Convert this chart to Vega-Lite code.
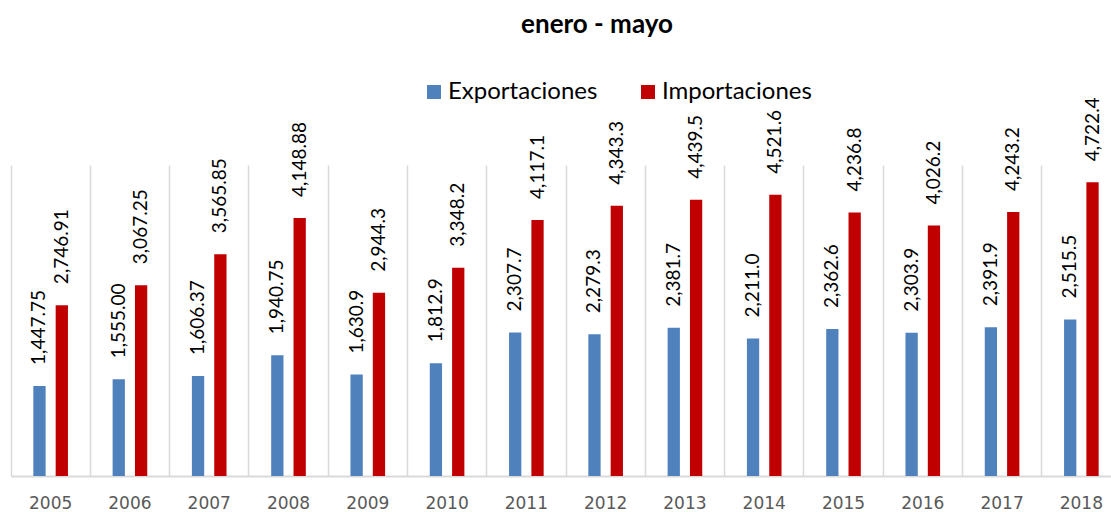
{
  "$schema": "https://vega.github.io/schema/vega-lite/v6.json",
  "autosize": "none",
  "width": 1110,
  "height": 311,
  "padding": {"left": 11, "top": 165, "right": 0, "bottom": 36},
  "background": "white",
  "title": {
    "text": "enero - mayo",
    "fontSize": 26,
    "fontWeight": "bold",
    "font": "Lato",
    "color": "#000000",
    "anchor": "middle",
    "dx": 31,
    "offset": 42
  },
  "data": {
    "values": [
      {"year": "2005", "tipo": "Exportaciones", "valor": 1447.75, "label": "1,447.75"},
      {"year": "2005", "tipo": "Importaciones", "valor": 2746.91, "label": "2,746.91"},
      {"year": "2006", "tipo": "Exportaciones", "valor": 1555.00, "label": "1,555.00"},
      {"year": "2006", "tipo": "Importaciones", "valor": 3067.25, "label": "3,067.25"},
      {"year": "2007", "tipo": "Exportaciones", "valor": 1606.37, "label": "1,606.37"},
      {"year": "2007", "tipo": "Importaciones", "valor": 3565.85, "label": "3,565.85"},
      {"year": "2008", "tipo": "Exportaciones", "valor": 1940.75, "label": "1,940.75"},
      {"year": "2008", "tipo": "Importaciones", "valor": 4148.88, "label": "4,148.88"},
      {"year": "2009", "tipo": "Exportaciones", "valor": 1630.9, "label": "1,630.9"},
      {"year": "2009", "tipo": "Importaciones", "valor": 2944.3, "label": "2,944.3"},
      {"year": "2010", "tipo": "Exportaciones", "valor": 1812.9, "label": "1,812.9"},
      {"year": "2010", "tipo": "Importaciones", "valor": 3348.2, "label": "3,348.2"},
      {"year": "2011", "tipo": "Exportaciones", "valor": 2307.7, "label": "2,307.7"},
      {"year": "2011", "tipo": "Importaciones", "valor": 4117.1, "label": "4,117.1"},
      {"year": "2012", "tipo": "Exportaciones", "valor": 2279.3, "label": "2,279.3"},
      {"year": "2012", "tipo": "Importaciones", "valor": 4343.3, "label": "4,343.3"},
      {"year": "2013", "tipo": "Exportaciones", "valor": 2381.7, "label": "2,381.7"},
      {"year": "2013", "tipo": "Importaciones", "valor": 4439.5, "label": "4,439.5"},
      {"year": "2014", "tipo": "Exportaciones", "valor": 2211.0, "label": "2,211.0"},
      {"year": "2014", "tipo": "Importaciones", "valor": 4521.6, "label": "4,521.6"},
      {"year": "2015", "tipo": "Exportaciones", "valor": 2362.6, "label": "2,362.6"},
      {"year": "2015", "tipo": "Importaciones", "valor": 4236.8, "label": "4,236.8"},
      {"year": "2016", "tipo": "Exportaciones", "valor": 2303.9, "label": "2,303.9"},
      {"year": "2016", "tipo": "Importaciones", "valor": 4026.2, "label": "4,026.2"},
      {"year": "2017", "tipo": "Exportaciones", "valor": 2391.9, "label": "2,391.9"},
      {"year": "2017", "tipo": "Importaciones", "valor": 4243.2, "label": "4,243.2"},
      {"year": "2018", "tipo": "Exportaciones", "valor": 2515.5, "label": "2,515.5"},
      {"year": "2018", "tipo": "Importaciones", "valor": 4722.4, "label": "4,722.4"}
    ]
  },
  "encoding": {
    "x": {
      "field": "year",
      "type": "nominal",
      "scale": {"paddingInner": 0, "paddingOuter": 0},
      "axis": {
        "title": null,
        "labelAngle": 0,
        "labelFont": "DejaVu Sans",
        "labelFontSize": 17,
        "labelColor": "#595959",
        "labelBaseline": "middle",
        "labelPadding": 27,
        "domainColor": "#D9D9D9",
        "domainWidth": 2,
        "ticks": false,
        "grid": true,
        "gridColor": "#D9D9D9",
        "gridWidth": 1.5,
        "bandPosition": 0
      }
    },
    "xOffset": {
      "field": "tipo",
      "type": "nominal",
      "scale": {"paddingInner": 0.45, "paddingOuter": 1.2}
    },
    "y": {
      "field": "valor",
      "type": "quantitative",
      "scale": {"domain": [0, 5000], "nice": false},
      "axis": null
    }
  },
  "layer": [
    {
      "mark": {"type": "bar"},
      "encoding": {
        "color": {
          "field": "tipo",
          "type": "nominal",
          "scale": {"domain": ["Exportaciones", "Importaciones"], "range": ["#4F81BD", "#C00000"]},
          "legend": {
            "title": null,
            "orient": "none",
            "direction": "horizontal",
            "legendX": 411,
            "legendY": -85,
            "symbolType": "square",
            "symbolSize": 196,
            "symbolStrokeWidth": 0,
            "labelFont": "Lato",
            "labelFontSize": 24,
            "labelColor": "#000000",
            "labelOffset": 2,
            "columnPadding": 38,
            "labelLimit": 300
          }
        }
      }
    },
    {
      "mark": {
        "type": "text",
        "angle": 270,
        "align": "left",
        "baseline": "middle",
        "dx": 21,
        "font": "Lato",
        "fontSize": 19,
        "color": "#000000"
      },
      "encoding": {
        "text": {"field": "label", "type": "nominal"}
      }
    }
  ],
  "config": {
    "view": {"stroke": null}
  }
}
